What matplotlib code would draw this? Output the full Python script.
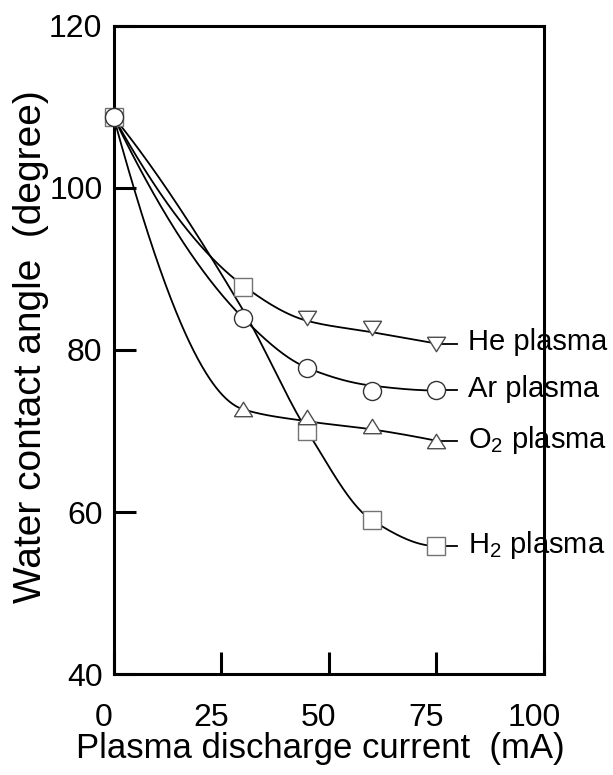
import numpy as np
import matplotlib
matplotlib.use('Agg')
import matplotlib.pyplot as plt
from matplotlib.transforms import ScaledTranslation

plt.rcParams['font.family'] = ['Liberation Sans', 'DejaVu Sans']
plt.rcParams['mathtext.fontset'] = 'custom'
plt.rcParams['mathtext.rm'] = 'Liberation Sans'

# discharge current (mA)
current = [0, 30, 45, 60, 75]

# measured points (marker positions)
he_x = [45, 60, 75]
he_y = [83.9, 82.7, 80.8]
ar_y = [108.8, 84.0, 77.8, 74.9, 75.0]
o2_x = [30, 45, 60, 75]
o2_y = [72.7, 71.7, 70.6, 68.8]
h2_y = [108.8, 87.8, 70.0, 59.0, 55.8]

# hand drawn guide curves (knots)
he_curve = [108.8, 88.0, 83.6, 82.2, 80.8]
ar_curve = [108.8, 84.0, 77.8, 75.6, 75.0]
o2_curve = [108.8, 72.7, 71.2, 70.2, 68.8]
h2_curve = [108.8, 85.0, 70.0, 59.0, 55.8]

labels = ['He plasma', 'Ar plasma', r'O$_2$ plasma', r'H$_2$ plasma']


def pchip(x, y, xs):
    """monotone cubic through the knots, just for drawing the smooth line"""
    x = np.asarray(x, float)
    y = np.asarray(y, float)
    h = np.diff(x)
    d = np.diff(y) / h
    m = np.zeros_like(y)
    for k in range(1, len(x) - 1):
        if d[k - 1] * d[k] > 0:
            w1 = 2 * h[k] + h[k - 1]
            w2 = h[k] + 2 * h[k - 1]
            m[k] = (w1 + w2) / (w1 / d[k - 1] + w2 / d[k])

    def end_slope(h0, h1, d0, d1):
        s = ((2 * h0 + h1) * d0 - h0 * d1) / (h0 + h1)
        if np.sign(s) != np.sign(d0):
            s = 0.0
        elif np.sign(d0) != np.sign(d1) and abs(s) > abs(3 * d0):
            s = 3 * d0
        return s

    m[0] = end_slope(h[0], h[1], d[0], d[1])
    m[-1] = end_slope(h[-1], h[-2], d[-1], d[-2])
    i = np.clip(np.searchsorted(x, xs) - 1, 0, len(h) - 1)
    t = (xs - x[i]) / h[i]
    h00 = 2 * t**3 - 3 * t**2 + 1
    h10 = t**3 - 2 * t**2 + t
    h01 = -2 * t**3 + 3 * t**2
    h11 = t**3 - t**2
    return h00 * y[i] + h10 * h[i] * m[i] + h01 * y[i + 1] + h11 * h[i] * m[i + 1]


fig = plt.figure(figsize=(6.13, 7.75), dpi=100)
ax = fig.add_axes([0.1852, 0.1303, 0.7022, 0.8362])

xs = np.linspace(0, 75, 300)
for curve in [he_curve, ar_curve, o2_curve, h2_curve]:
    ax.plot(xs, pchip(current, curve, xs), color='black', lw=1.3, zorder=2, clip_on=False)
    # short leader from last point towards the label
    ax.plot([75, 79.7], [curve[-1], curve[-1]], color='black', lw=1.3, zorder=2)

ms = 13
tri_up = [(-1, -0.8), (1, -0.8), (0, 0.8), (-1, -0.8)]
tri_down = [(-1, 0.8), (1, 0.8), (0, -0.8), (-1, 0.8)]
ax.plot(current, h2_y, ls='none', marker='s', ms=ms, mfc='white', mec='0.45', mew=1.0,
        zorder=4, clip_on=False)
ax.plot(o2_x, o2_y, ls='none', marker=tri_up, ms=ms, mfc='white', mec='0.3', mew=1.0, zorder=4)
ax.plot(he_x, he_y, ls='none', marker=tri_down, ms=ms, mfc='white', mec='0.3', mew=1.0, zorder=4)
ax.plot(current, ar_y, ls='none', marker='o', ms=ms, mfc='white', mec='0.2', mew=1.0,
        zorder=5, clip_on=False)

# series labels at the right end
ends = [he_curve[-1], ar_curve[-1], o2_curve[-1], h2_curve[-1]]
for lab, yv in zip(labels, ends):
    ax.annotate(lab, xy=(82.3, yv), xytext=(0, -5), textcoords='offset points',
                fontsize=21, va='baseline', ha='left', annotation_clip=False, zorder=6)

ax.set_xlim(0, 100)
ax.set_ylim(40, 120)
ax.set_xticks([0, 25, 50, 75, 100])
ax.set_yticks([40, 60, 80, 100, 120])
for s in ax.spines.values():
    s.set_linewidth(2.2)
ax.tick_params(direction='in', length=16, width=2.2, labelsize=23, top=False, right=False)
ax.tick_params(axis='x', pad=21)
ax.tick_params(axis='y', pad=8)

shift = ScaledTranslation(-0.1, 0, fig.dpi_scale_trans)
for lbl in ax.get_xticklabels():
    lbl.set_transform(lbl.get_transform() + shift)

fig.text(0.523, 0.022, 'Plasma discharge current  (mA)', fontsize=25, ha='center', va='baseline')
fig.text(0.050, 0.553, 'Water contact angle  (degree)', fontsize=28, ha='center', va='center',
         rotation=90)

fig.savefig('out.png', dpi=100)
